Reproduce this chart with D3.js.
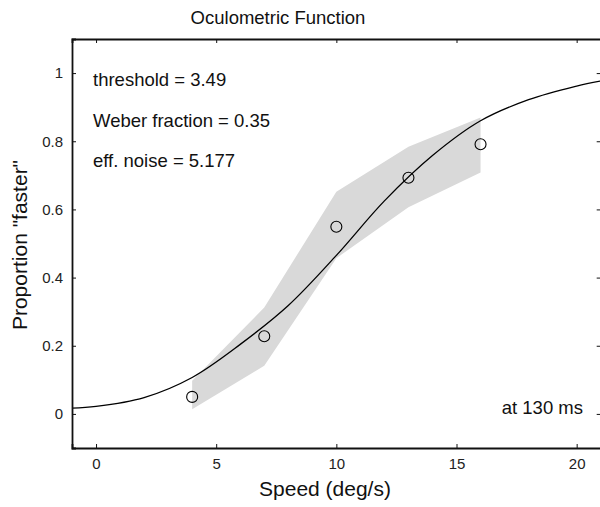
<!DOCTYPE html>
<html><head><meta charset="utf-8">
<script src="https://cdn.jsdelivr.net/npm/d3@7"></script>
<style>body{margin:0;background:#fff}svg{display:block;font-family:"Liberation Sans",Arial,sans-serif}</style>
</head><body><svg id="c" width="600" height="507"></svg>
<script>
// Data
const speeds = [4, 7, 10, 13, 16];
const proportions = [0.05, 0.228, 0.549, 0.693, 0.791];
const bandUpper = [0.097, 0.312, 0.652, 0.784, 0.870];
const bandLower = [0.014, 0.141, 0.457, 0.606, 0.708];
const fitX = [-1, 0, 2, 4, 6, 8, 10, 12, 14, 16, 18, 20, 21];
const fitY = [0.017, 0.022, 0.048, 0.107, 0.204, 0.318, 0.465, 0.625, 0.758, 0.86, 0.922, 0.962, 0.977];
const xTicks = [0, 5, 10, 15, 20];
const yTicks = [0, 0.2, 0.4, 0.6, 0.8, 1];
const annotations = ["threshold = 3.49", "Weber fraction = 0.35", "eff. noise = 5.177"];

const svg = d3.select("#c");
const L = 72, R = 600.7, T = 39, B = 448;
const x = d3.scaleLinear().domain([-1, 21]).range([L, R]);
const y = d3.scaleLinear().domain([-0.1, 1.1]).range([B, T]);

// Title
svg.append("text").attr("x", 278).attr("y", 24).attr("text-anchor", "middle")
  .attr("font-size", 18.5).attr("fill", "#111").text("Oculometric Function");

// Band
const bandData = speeds.map((s, i) => ({x: s, lo: bandLower[i], hi: bandUpper[i]}));
svg.append("path").datum(bandData)
  .attr("d", d3.area().x(d => x(d.x)).y0(d => y(d.lo)).y1(d => y(d.hi)))
  .attr("fill", "#d9d9d9");

// Fit curve
const fit = fitX.map((v, i) => [v, fitY[i]]);
svg.append("path").datum(fit)
  .attr("d", d3.line().x(d => x(d[0])).y(d => y(d[1])).curve(d3.curveCatmullRom))
  .attr("fill", "none").attr("stroke", "#000").attr("stroke-width", 1.3);

// Points
svg.selectAll("circle.pt").data(speeds).join("circle").attr("class", "pt")
  .attr("cx", d => x(d)).attr("cy", (d, i) => y(proportions[i])).attr("r", 5.5)
  .attr("fill", "none").attr("stroke", "#000").attr("stroke-width", 1.1);

// Axes
const tk = 4;
const axB = svg.append("g").attr("transform", `translate(0,${B})`)
  .call(d3.axisBottom(x).tickValues(xTicks).tickSize(-tk).tickPadding(10).tickFormat(d3.format("d")));
const axT = svg.append("g").attr("transform", `translate(0,${T})`)
  .call(d3.axisTop(x).tickValues(xTicks).tickSize(-tk).tickFormat(""));
const axL = svg.append("g").attr("transform", `translate(${L},0)`)
  .call(d3.axisLeft(y).tickValues(yTicks).tickSize(-tk).tickPadding(9).tickFormat(d => d === 0 || d === 1 ? d3.format("d")(d) : d3.format(".1f")(d)));
const axR = svg.append("g").attr("transform", `translate(${R},0)`)
  .call(d3.axisRight(y).tickValues(yTicks).tickSize(-tk).tickFormat(""));
[axB, axT, axL, axR].forEach(g => {
  g.select(".domain").attr("stroke", "#111").attr("stroke-width", 1.8);
  g.selectAll(".tick line").attr("stroke", "#111").attr("stroke-width", 1);
  g.selectAll(".tick text").attr("font-size", 15).attr("fill", "#222")
    .attr("font-family", "Liberation Sans, Arial, sans-serif");
});
axR.select(".domain").attr("stroke", "none");

// Annotations
svg.selectAll("text.ann").data(annotations).join("text").attr("class", "ann")
  .attr("x", 93).attr("y", (d, i) => 86 + i * 40.7).attr("font-size", 18.5).attr("fill", "#111").text(d => d);
svg.append("text").attr("x", 583).attr("y", 413.5).attr("text-anchor", "end")
  .attr("font-size", 18.5).attr("fill", "#111").text("at 130 ms");

// Axis labels
svg.append("text").attr("x", 325).attr("y", 496).attr("text-anchor", "middle")
  .attr("font-size", 21).attr("fill", "#111").text("Speed (deg/s)");
svg.append("text").attr("transform", "translate(27,245) rotate(-90)").attr("text-anchor", "middle")
  .attr("font-size", 21).attr("fill", "#111").text("Proportion \"faster\"");
</script></body></html>
